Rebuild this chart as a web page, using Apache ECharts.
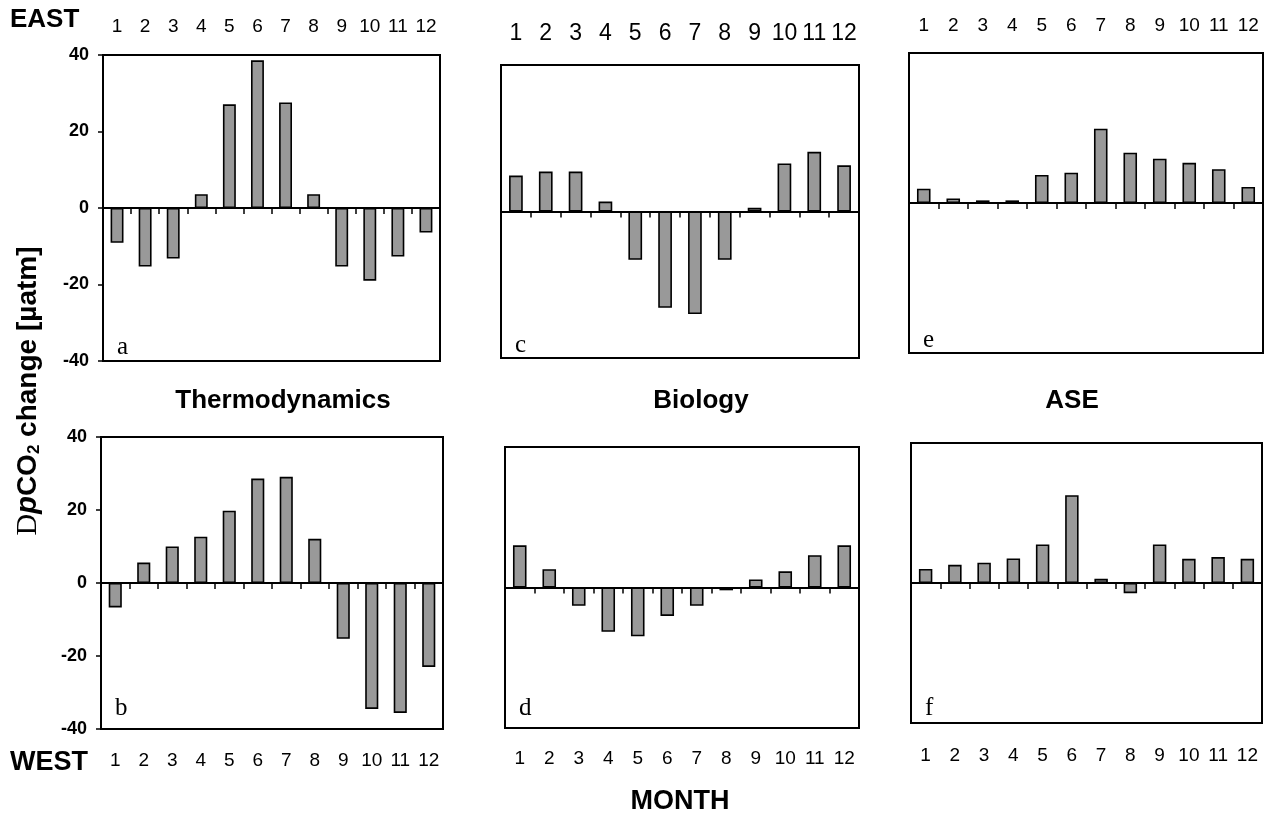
<!DOCTYPE html>
<html>
<head>
<meta charset="utf-8">
<script src="https://cdn.jsdelivr.net/npm/echarts@6/dist/echarts.min.js"></script>
<style>
  html, body { margin: 0; padding: 0; background: #fff; }
  #chart { width: 1269px; height: 817px; }
</style>
</head>
<body>
<div id="chart"></div>
<script>
// Months on the category axis
const months = ['1', '2', '3', '4', '5', '6', '7', '8', '9', '10', '11', '12'];

// Value axis range shared by every panel (µatm)
const yMin = -40;
const yMax = 40;
const yStep = 20;

// Monthly pCO2 change by driver, eastern (top row) and western (bottom row) region
const thermoEast = [-9.1, -15.3, -13.2, 3.6, 27.1, 38.6, 27.6, 3.6, -15.3, -19.0, -12.7, -6.4];
const thermoWest = [-6.7, 5.6, 10.0, 12.7, 19.8, 28.6, 29.1, 12.1, -15.3, -34.5, -35.6, -23.0];
const bioEast    = [9.8, 10.9, 10.9, 2.7, -13.2, -26.3, -28.0, -13.2, 1.0, 13.1, 16.3, 12.6];
const bioWest    = [12.0, 5.2, -5.2, -12.6, -13.9, -8.1, -5.2, -0.8, 2.3, 4.6, 9.2, 12.0];
const aseEast    = [3.8, 1.2, 0.7, 0.7, 7.5, 8.1, 19.8, 13.4, 11.8, 10.7, 9.0, 4.3];
const aseWest    = [4.0, 5.2, 5.8, 7.0, 11.0, 25.1, 1.2, -2.9, 11.0, 6.9, 7.4, 6.9];

// Panel letters and column titles
const panelLetters = ['a', 'b', 'c', 'd', 'e', 'f'];
const columnTitles = ['Thermodynamics', 'Biology', 'ASE'];

const SANS = '"Liberation Sans", Arial, sans-serif';
const SERIF = '"Liberation Serif", "Times New Roman", serif';

// Panel boxes in pixels and month-label placement
const panels = [
  { data: thermoEast, left: 103, top: 55,  width: 337, height: 306, yLabels: true,  labelPos: 'top',    margin: 19, fontSize: 19, letterY: 347 },
  { data: thermoWest, left: 101, top: 437, width: 342, height: 292, yLabels: true,  labelPos: 'bottom', margin: 22, fontSize: 19, letterY: 708 },
  { data: bioEast,    left: 501, top: 65,  width: 358, height: 293, yLabels: false, labelPos: 'top',    margin: 20, fontSize: 23, letterY: 345 },
  { data: bioWest,    left: 505, top: 447, width: 354, height: 281, yLabels: false, labelPos: 'bottom', margin: 21, fontSize: 19, letterY: 708 },
  { data: aseEast,    left: 909, top: 53,  width: 354, height: 300, yLabels: false, labelPos: 'top',    margin: 18, fontSize: 19, letterY: 340 },
  { data: aseWest,    left: 911, top: 443, width: 351, height: 280, yLabels: false, labelPos: 'bottom', margin: 23, fontSize: 19, letterY: 708 }
];

const grid = [];
const xAxis = [];
const yAxis = [];
const series = [];
const graphic = [];

panels.forEach((p, i) => {
  grid.push({
    left: p.left, top: p.top, width: p.width, height: p.height,
    show: true, borderColor: '#000', borderWidth: 2, backgroundColor: 'transparent'
  });
  // axis drawn along zero with boundary ticks
  xAxis.push({
    gridIndex: i, type: 'category', data: months, position: 'bottom',
    axisLine: { show: true, onZero: true, lineStyle: { color: '#000', width: 2 } },
    axisTick: { show: true, length: 6, inside: false, lineStyle: { color: '#000', width: 1.5 } },
    axisLabel: { show: false },
    splitLine: { show: false }
  });
  // month labels outside the box
  xAxis.push({
    gridIndex: i, type: 'category', data: months, position: p.labelPos,
    axisLine: { show: false, onZero: false },
    axisTick: { show: false },
    axisLabel: { show: true, margin: p.margin, fontSize: p.fontSize, color: '#000', fontFamily: SANS, interval: 0 },
    splitLine: { show: false }
  });
  yAxis.push({
    gridIndex: i, type: 'value', min: yMin, max: yMax, interval: yStep,
    axisLine: { show: true, lineStyle: { color: '#000', width: 2 } },
    axisTick: { show: p.yLabels, length: 5, lineStyle: { color: '#000', width: 1.5 } },
    axisLabel: { show: p.yLabels, margin: 14, fontSize: 18, fontWeight: 'bold', color: '#000', fontFamily: SANS },
    splitLine: { show: false }
  });
  series.push({
    type: 'bar', xAxisIndex: 2 * i, yAxisIndex: i, data: p.data,
    barWidth: '46%', silent: true,
    itemStyle: { color: '#999999', borderColor: '#000', borderWidth: 1.6 }
  });
  graphic.push({
    type: 'text', x: p.left + 14, y: p.letterY,
    style: { text: panelLetters[i], font: 'normal 25px ' + SERIF, fill: '#000', textAlign: 'left', textVerticalAlign: 'middle', verticalAlign: 'middle' }
  });
});

// Column titles between the rows
const titleX = [283, 701, 1072];
columnTitles.forEach((t, i) => {
  graphic.push({
    type: 'text', x: titleX[i], y: 401,
    style: { text: t, font: 'bold 26px ' + SANS, fill: '#000', textAlign: 'center', textVerticalAlign: 'middle', verticalAlign: 'middle' }
  });
});

// Row and axis captions
graphic.push(
  { type: 'text', x: 10, y: 20, style: { text: 'EAST', font: 'bold 26px ' + SANS, fill: '#000', textAlign: 'left', textVerticalAlign: 'middle', verticalAlign: 'middle' } },
  { type: 'text', x: 10, y: 763, style: { text: 'WEST', font: 'bold 27px ' + SANS, fill: '#000', textAlign: 'left', textVerticalAlign: 'middle', verticalAlign: 'middle' } },
  { type: 'text', x: 680, y: 802, style: { text: 'MONTH', font: 'bold 27px ' + SANS, fill: '#000', textAlign: 'center', textVerticalAlign: 'middle', verticalAlign: 'middle' } },
  {
    type: 'text', x: 28, y: 391, rotation: Math.PI / 2,
    style: {
      text: '{d|D}{p|p}{b|CO}{s|2}{b| change [µatm]}',
      fill: '#000', textAlign: 'center', textVerticalAlign: 'middle', verticalAlign: 'middle',
      rich: {
        d: { fontFamily: SERIF, fontSize: 30, fontWeight: 'normal', fill: '#000', color: '#000' },
        p: { fontFamily: SANS, fontSize: 29, fontWeight: 'bold', fontStyle: 'italic', fill: '#000', color: '#000' },
        b: { fontFamily: SANS, fontSize: 28, fontWeight: 'bold', fill: '#000', color: '#000' },
        s: { fontFamily: SANS, fontSize: 17, fontWeight: 'bold', fill: '#000', color: '#000', verticalAlign: 'bottom', padding: [10, 0, 0, 0] }
      }
    }
  }
);

const chart = echarts.init(document.getElementById('chart'), null, { renderer: 'canvas' });
chart.setOption({
  animation: false,
  backgroundColor: '#fff',
  grid, xAxis, yAxis, series, graphic
});
</script>
</body>
</html>
